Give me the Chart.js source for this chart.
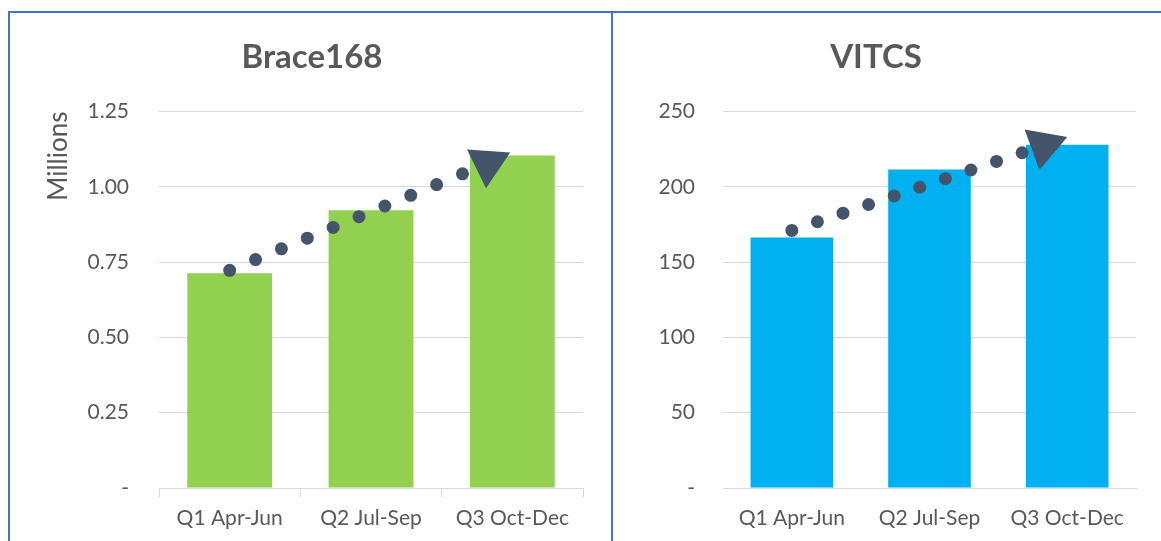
<!DOCTYPE html>
<html>
<head>
<meta charset="utf-8">
<script src="https://cdn.jsdelivr.net/npm/chart.js@4.4.1/dist/chart.umd.min.js"></script>
<style>
	body { margin: 0; background: #fff; width: 1161px; height: 541px; overflow: hidden; position: relative; }
	.panel { position: absolute; border: 2px solid #4472C4; box-sizing: border-box; }
	#box-left { left: 8px; top: 11px; width: 605px; height: 600px; }
	#box-right { left: 611px; top: 11px; width: 600px; height: 600px; }
	.holder { position: absolute; top: 13px; height: 528px; }
	#holder-left { left: 10px; width: 601px; }
	#holder-right { left: 613px; width: 548px; }
</style>
</head>
<body>
<div class="panel" id="box-left"></div>
<div class="panel" id="box-right"></div>
<div class="holder" id="holder-left"><canvas id="chart-left"></canvas></div>
<div class="holder" id="holder-right"><canvas id="chart-right"></canvas></div>
<script>
var quarters = ['Q1 Apr-Jun', 'Q2 Jul-Sep', 'Q3 Oct-Dec'];

// Brace168 (millions)
var braceValues = [0.713, 0.922, 1.104];
// VITCS
var vitcsValues = [166.4, 211.5, 227.9];

// dotted trend arrows: start dot and arrow head, in category index / value units
var braceTrendX = [0, 1.826];
var braceTrendY = [0.723, 1.078];
var vitcsTrendX = [0, 1.83];
var vitcsTrendY = [171.1, 227.5];

var colors = {
	green: '#92D050',
	blue: '#00B0F0',
	arrow: '#44546A',
	grid: '#D9D9D9',
	text: '#595959'
};

Chart.defaults.font.family = 'Lato, "Open Sans", sans-serif';
Chart.defaults.color = colors.text;

function trendPoints(xs, ys) {
	return xs.map(function(x, i) { return { x: x, y: ys[i] }; });
}

function makeConfig(opt) {
	return {
		type: 'bar',
		data: {
			labels: quarters,
			datasets: [
				{
					type: 'line',
					xAxisID: 'xa',
					data: trendPoints(opt.trendX, opt.trendY),
					borderColor: colors.arrow,
					borderWidth: 13,
					borderCapStyle: 'round',
					borderDash: [0, opt.dotGap],
					pointRadius: [0, 25],
					pointStyle: 'triangle',
					pointRotation: opt.headRotation,
					pointBackgroundColor: colors.arrow,
					pointBorderWidth: 0,
					order: 0,
					clip: false
				},
				{
					xAxisID: 'x',
					data: opt.values,
					backgroundColor: opt.color,
					barPercentage: 0.6,
					categoryPercentage: 1,
					grouped: false,
					order: 1
				}
			]
		},
		options: {
			responsive: true,
			maintainAspectRatio: false,
			animation: false,
			layout: { padding: { left: opt.padLeft, right: opt.padRight, top: 0, bottom: 0 } },
			plugins: {
				legend: { display: false },
				tooltip: { enabled: false },
				title: {
					display: true,
					text: opt.title,
					color: colors.text,
					font: { size: 33, weight: 'bold' },
					padding: { top: 25, bottom: 34 }
				}
			},
			scales: {
				x: {
					grid: {
						drawOnChartArea: false,
						color: colors.grid,
						tickColor: opt.tickColor,
						tickLength: 9
					},
					border: { color: colors.grid },
					ticks: { font: { size: 21 }, padding: 9, maxRotation: 0 },
					afterFit: function(scale) { scale.height = 53; }
				},
				xa: {
					type: 'linear',
					display: false,
					offset: false,
					min: -0.5,
					max: 2.5
				},
				y: {
					min: 0,
					max: opt.max,
					grid: { color: colors.grid, drawTicks: false },
					border: { display: false },
					ticks: {
						stepSize: opt.step,
						padding: opt.tickPad,
						font: { size: 21 },
						callback: opt.tickLabel
					},
					title: {
						display: opt.yTitle != '',
						text: opt.yTitle,
						align: 'end',
						font: { size: 26 },
						padding: { top: 2, bottom: 0 }
					},
					afterFit: function(scale) { scale.width = opt.yWidth; }
				}
			}
		}
	};
}

var configLeft = makeConfig({
	title: 'Brace168',
	values: braceValues,
	color: colors.green,
	trendX: braceTrendX,
	trendY: braceTrendY,
	dotGap: 28,
	headRotation: 184,
	max: 1.25,
	step: 0.25,
	tickLabel: function(v) { return v == 0 ? '-' : v.toFixed(2); },
	yTitle: 'Millions',
	padLeft: 31,
	padRight: 28,
	yWidth: 118,
	tickPad: 30,
	tickColor: colors.grid
});

var configRight = makeConfig({
	title: 'VITCS',
	values: vitcsValues,
	color: colors.blue,
	trendX: vitcsTrendX,
	trendY: vitcsTrendY,
	dotGap: 27,
	headRotation: 190,
	max: 250,
	step: 50,
	tickLabel: function(v) { return v == 0 ? '-' : v; },
	yTitle: '',
	padLeft: 0,
	padRight: 22,
	yWidth: 110,
	tickPad: 28,
	tickColor: 'rgba(0,0,0,0)'
});

var chartLeft = new Chart(document.getElementById('chart-left').getContext('2d'), configLeft);
var chartRight = new Chart(document.getElementById('chart-right').getContext('2d'), configRight);
</script>
</body>
</html>
